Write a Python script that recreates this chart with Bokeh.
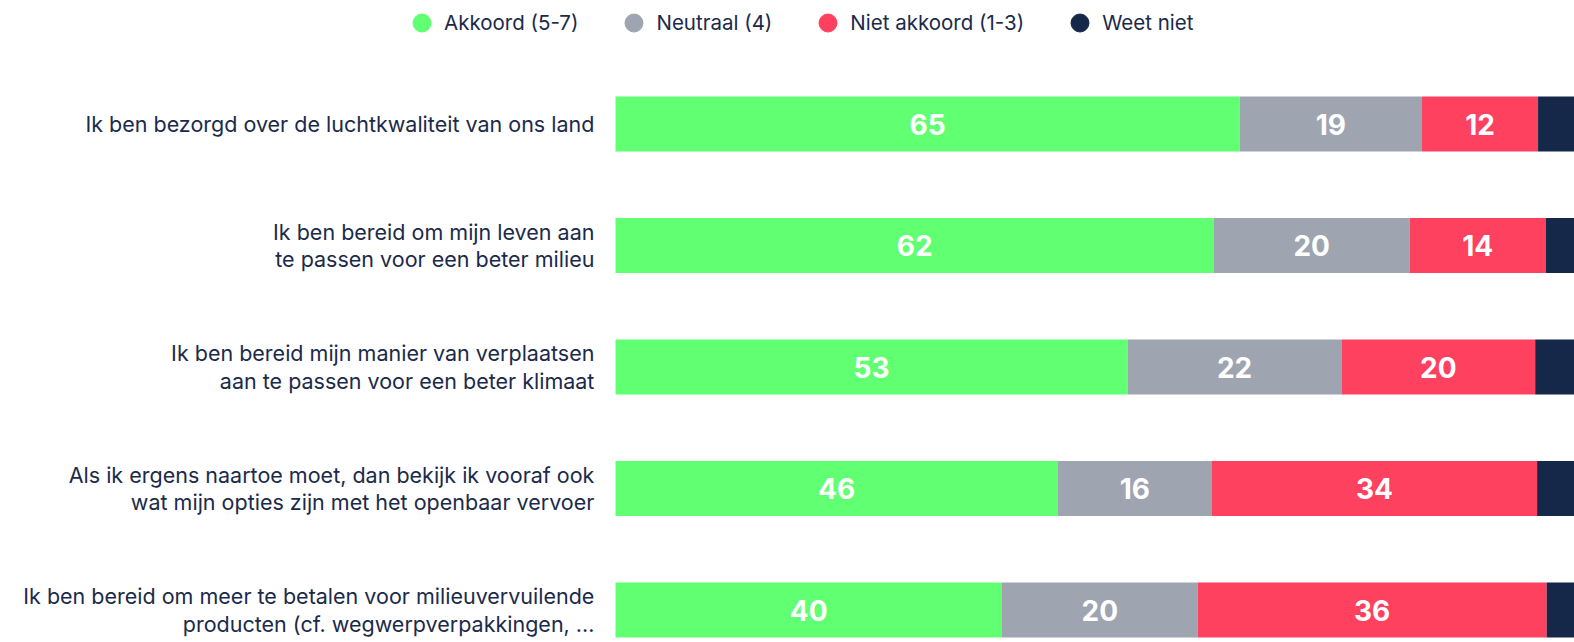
from bokeh.plotting import figure
from bokeh.models import Range1d, ColumnDataSource, Legend, LegendItem
from bokeh.core.properties import value
from bokeh.embed import file_html
from bokeh.resources import INLINE

statements = [
    "Ik ben bezorgd over de luchtkwaliteit van ons land",
    "Ik ben bereid om mijn leven aan\nte passen voor een beter milieu",
    "Ik ben bereid mijn manier van verplaatsen\naan te passen voor een beter klimaat",
    "Als ik ergens naartoe moet, dan bekijk ik vooraf ook\nwat mijn opties zijn met het openbaar vervoer",
    "Ik ben bereid om meer te betalen voor milieuvervuilende\nproducten (cf. wegwerpverpakkingen, ...",
]
series = ["Akkoord (5-7)", "Neutraal (4)", "Niet akkoord (1-3)", "Weet niet"]
akkoord = [65.1, 62.4, 53.4, 46.1, 40.3]
neutraal = [19.0, 20.4, 22.3, 16.1, 20.4]
niet_akkoord = [12.1, 14.2, 20.2, 33.9, 36.4]
weet_niet = [3.8, 3.0, 4.1, 3.9, 2.9]
colors = ["#61FF72", "#9EA4B0", "#FF4160", "#16284A"]

TEXT_COLOR = "#1B2A4A"
FONT = "Inter"

keys = ["akkoord", "neutraal", "niet_akkoord", "weet_niet"]
rows = list(range(len(statements)))
data = dict(y=rows, statement=statements, akkoord=akkoord, neutraal=neutraal,
            niet_akkoord=niet_akkoord, weet_niet=weet_niet)
source = ColumnDataSource(data)

p = figure(width=1574, height=642, output_backend="svg", toolbar_location=None,
           x_range=Range1d(-64.13, 100), y_range=Range1d(4.267, -1.0165),
           min_border=0)
p.axis.visible = False
p.grid.visible = False
p.outline_line_color = None
p.background_fill_color = "white"
p.border_fill_color = "white"

p.hbar_stack(keys, y="y", height=0.453, color=colors, line_color=None, source=source)

# value labels
lx, ly, lt = [], [], []
for i in rows:
    left = 0.0
    for arr in (akkoord, neutraal, niet_akkoord, weet_niet):
        v = arr[i]
        if v >= 5:
            lx.append(left + v / 2)
            ly.append(i)
            lt.append(str(int(round(v))))
        left += v
p.text(x=lx, y=ly, text=lt, text_align="center", text_baseline="middle",
       text_color="white", text_font=value(FONT), text_font_style="bold",
       text_font_size="28px")

# category labels
p.text(x=-2.2, y="y", text="statement", source=source, text_align="right",
       text_baseline="middle", text_color=TEXT_COLOR, text_font=value(FONT),
       text_font_size="21.5px", text_line_height=1.06)

# legend
nan = float("nan")
items = []
for name, c in zip(series, colors):
    r = p.scatter(x=[nan], y=[nan], marker="circle", color=c)
    items.append(LegendItem(label=name, renderers=[r]))
legend = Legend(items=items, orientation="horizontal", location=(399, 597),
                glyph_width=45, glyph_height=45, label_standoff=0, spacing=33,
                padding=0, margin=0, border_line_color=None,
                background_fill_alpha=0, label_text_font=FONT,
                label_text_font_size="20.5px", label_text_color=TEXT_COLOR)
p.add_layout(legend)

open("out.html", "w").write(file_html(p, INLINE))
